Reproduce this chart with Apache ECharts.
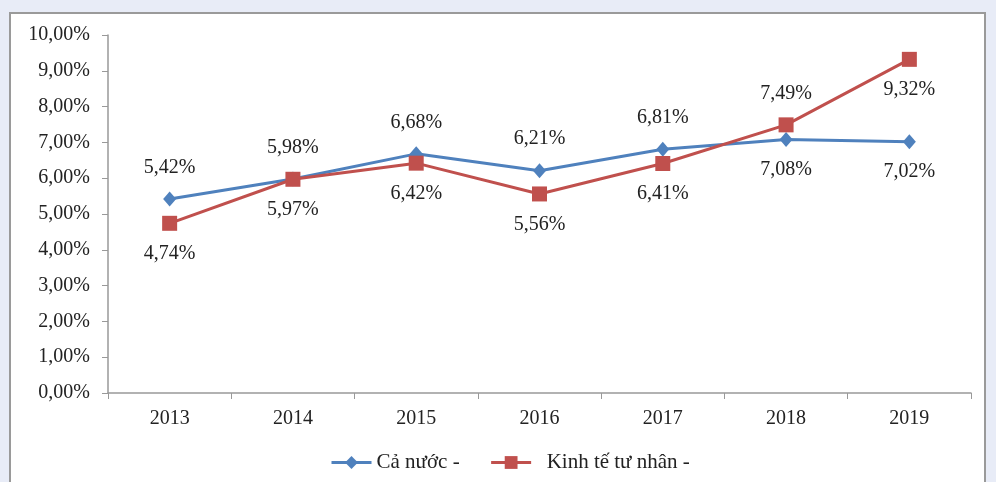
<!DOCTYPE html>
<html><head><meta charset="utf-8">
<script src="https://cdn.jsdelivr.net/npm/echarts@6/dist/echarts.min.js"></script>
<style>html,body{margin:0;padding:0;background:#e8ecf7;}#c{width:996px;height:482px;}</style>
</head><body><div id="c"></div>
<script>
const categories = ['2013','2014','2015','2016','2017','2018','2019'];
const caNuoc = [5.42, 5.98, 6.68, 6.21, 6.81, 7.08, 7.02];
const tuNhan = [4.74, 5.97, 6.42, 5.56, 6.41, 7.49, 9.32];
const caNuocLabelPos = ['top','top','top','top','top','bottom','bottom'];
const tuNhanLabelPos = ['bottom','bottom','bottom','bottom','bottom','top','bottom'];
const seriesNames = ['Cả nước -', 'Kinh tế tư nhân -'];

const font = 'Liberation Serif, Times New Roman, serif';
const fmt = v => v.toFixed(2).replace('.', ',') + '%';
function mk(vals, pos) {
  return vals.map((v, i) => ({
    value: v,
    label: { position: pos[i], distance: pos[i] === 'top' ? 14 : 13 }
  }));
}
const chart = echarts.init(document.getElementById('c'));
chart.setOption({
  animation: false,
  graphic: [{
    type: 'rect', shape: { x: 10, y: 13, width: 975, height: 480 },
    style: { fill: '#ffffff', stroke: '#9a9a9a', lineWidth: 2 }, z: -10
  }],
  grid: { left: 108, right: 25, top: 35, bottom: 89 },
  xAxis: {
    type: 'category', data: categories, boundaryGap: true,
    axisLine: { lineStyle: { color: '#999', width: 1.5 } },
    axisTick: { show: true, alignWithLabel: false, length: 6, lineStyle: { color: '#999' } },
    axisLabel: { color: '#222', fontFamily: font, fontSize: 20, margin: 16 }
  },
  yAxis: {
    type: 'value', min: 0, max: 10, interval: 1,
    splitLine: { show: false },
    axisLine: { show: true, lineStyle: { color: '#999', width: 1.5 } },
    axisTick: { show: true, length: 6, lineStyle: { color: '#999' } },
    axisLabel: { color: '#222', fontFamily: font, fontSize: 20, margin: 18, formatter: v => fmt(v) }
  },
  legend: {
    bottom: 4, left: 325, itemGap: 30, itemWidth: 40, itemHeight: 16,
    lineStyle: { width: 3 },
    textStyle: { fontFamily: font, fontSize: 21, color: '#222', padding: [0, 0, 0, 0] },
    formatter: n => n === seriesNames[1] ? '  ' + n : n,
    data: [seriesNames[0], seriesNames[1]]
  },
  series: [
    {
      name: seriesNames[0], type: 'line', data: mk(caNuoc, caNuocLabelPos),
      symbol: 'diamond', symbolSize: [13, 15], color: '#4f81bd',
      lineStyle: { width: 3, color: '#4f81bd' },
      label: { show: true, fontFamily: font, fontSize: 20, color: '#222', formatter: p => fmt(p.value) }
    },
    {
      name: seriesNames[1], type: 'line', data: mk(tuNhan, tuNhanLabelPos),
      symbol: 'rect', symbolSize: 15, color: '#c0504d',
      lineStyle: { width: 3, color: '#c0504d' },
      label: { show: true, fontFamily: font, fontSize: 20, color: '#222', formatter: p => fmt(p.value) }
    }
  ]
});
</script></body></html>
